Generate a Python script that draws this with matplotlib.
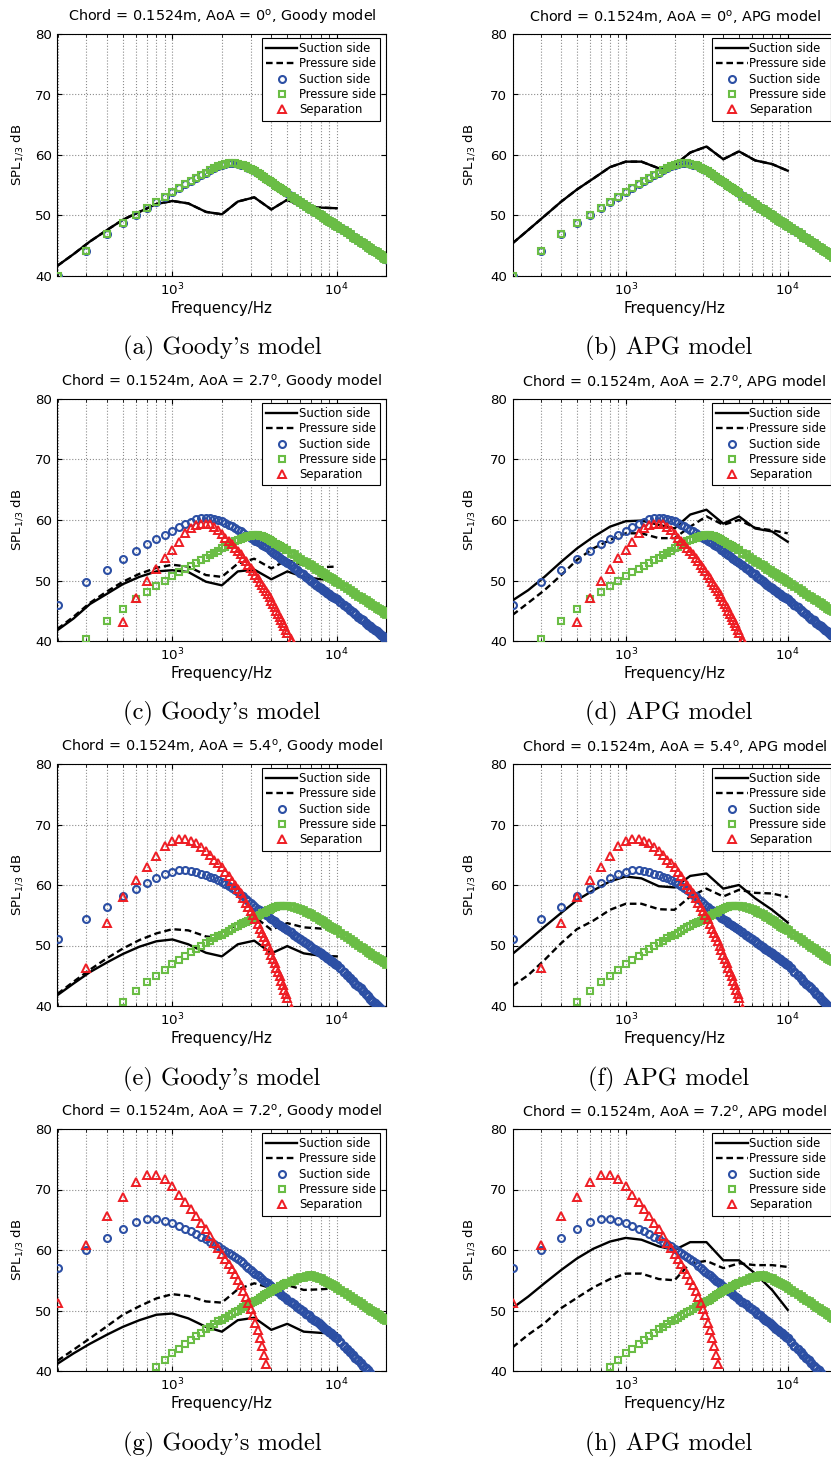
import numpy as np
import matplotlib
matplotlib.use('Agg')
import matplotlib.pyplot as plt
from matplotlib.ticker import FixedLocator, NullFormatter, LogLocator

# ---------------- data ----------------
# model (marker) frequencies, Hz
FREQ = list(range(200, 5001, 100)) + list(range(5250, 10001, 250)) + list(range(10500, 20001, 500))
# one-third octave band centres for the line curves, Hz
BANDS = [200, 250, 315, 400, 500, 630, 800, 1000, 1250, 1600, 2000, 2500, 3150, 4000, 5000, 6300, 8000, 10000]

# ---- AoA = 0 deg : model markers (suction == pressure) ----
SUC_0 = [40.0, 44.2, 46.9, 48.7, 50.1, 51.3, 52.2, 53.1, 53.9, 54.5, 55.2, 55.7, 56.2, 56.7, 57.1, 57.5, 57.9, 58.2, 58.4,
         58.5, 58.6, 58.6, 58.6, 58.5, 58.4, 58.3, 58.1, 57.9, 57.7,
         57.5, 57.3, 57.0, 56.8, 56.6, 56.3, 56.1, 55.9, 55.7, 55.5,
         55.3, 55.1, 54.9, 54.7, 54.6, 54.4, 54.2, 54.1, 53.9, 53.7,
         53.3, 52.9, 52.5, 52.2, 51.9, 51.6, 51.3, 51.0, 50.8, 50.5, 50.3, 50.0, 49.8, 49.6, 49.3, 49.1, 48.9, 48.7, 48.5, 48.3,
         47.9, 47.6, 47.2, 46.9, 46.5, 46.2, 45.9, 45.6, 45.4, 45.1, 44.8, 44.6, 44.3, 44.1, 43.9, 43.6, 43.4, 43.2, 43.0, 42.8]
PRE_0 = list(SUC_0)
SEP_0 = []

# ---- AoA = 2.7 deg ----
SUC_27 = [45.9, 49.7, 51.8, 53.5, 54.8, 56.0, 56.8, 57.6, 58.2, 58.8, 59.3, 59.7, 60.1, 60.3, 60.4, 60.3, 60.2, 60.0, 59.8,
          59.5, 59.2, 59.0, 58.7, 58.4, 58.1, 57.9, 57.6, 57.4, 57.1,
          56.9, 56.6, 56.4, 56.2, 55.9, 55.7, 55.5, 55.3, 55.0, 54.8,
          54.6, 54.4, 54.2, 54.0, 53.8, 53.6, 53.4, 53.2, 53.0, 52.9,
          52.5, 52.1, 51.7, 51.3, 51.0, 50.6, 50.3, 49.9, 49.6, 49.3, 49.0, 48.8, 48.5, 48.2, 48.0, 47.8, 47.5, 47.3, 47.1, 46.9,
          46.4, 46.0, 45.6, 45.2, 44.8, 44.4, 44.0, 43.7, 43.4, 43.0, 42.7, 42.4, 42.1, 41.8, 41.6, 41.3, 41.0, 40.8, 40.5, 40.3]
PRE_27 = [None, 40.4, 43.3, 45.3, 46.9, 48.1, 49.1, 49.9, 50.7, 51.4, 51.9, 52.4, 52.9, 53.4, 53.8, 54.2, 54.6, 54.9, 55.3,
          55.6, 55.9, 56.2, 56.5, 56.7, 56.9, 57.1, 57.2, 57.3, 57.4,
          57.5, 57.5, 57.5, 57.4, 57.3, 57.2, 57.0, 56.9, 56.7, 56.5,
          56.3, 56.1, 56.0, 55.8, 55.7, 55.5, 55.4, 55.3, 55.1, 55.0,
          54.6, 54.3, 53.9, 53.6, 53.3, 53.0, 52.7, 52.5, 52.2, 51.9, 51.7, 51.4, 51.2, 51.0, 50.8, 50.6, 50.4, 50.2, 50.0, 49.8,
          49.4, 49.1, 48.7, 48.4, 48.1, 47.8, 47.5, 47.2, 47.0, 46.7, 46.5, 46.2, 46.0, 45.8, 45.5, 45.3, 45.1, 44.9, 44.7, 44.5]
SEP_27 = [None, None, None, 43.1, 47.1, 49.9, 51.9, 53.7, 55.1, 56.4, 57.8, 58.6, 59.1, 59.3, 59.4, 59.3, 58.9, 58.3, 57.7,
          57.1, 56.6, 56.0, 55.4, 54.9, 54.3, 53.7, 53.2, 52.6, 52.0,
          51.5, 50.9, 50.4, 49.8, 49.3, 48.8, 48.2, 47.7, 47.2, 46.6,
          46.1, 45.6, 45.0, 44.5, 44.0, 43.5, 43.0, 42.4, 41.9, 41.4,
          40.1, 38.8]

# ---- AoA = 5.4 deg ----
SUC_54 = [51.1, 54.3, 56.4, 58.1, 59.3, 60.3, 61.2, 61.9, 62.2, 62.4, 62.4, 62.3, 62.1, 61.9, 61.7, 61.4, 61.1, 60.8, 60.5,
          60.2, 59.8, 59.5, 59.1, 58.8, 58.4, 58.1, 57.7, 57.4, 57.0,
          56.7, 56.4, 56.1, 55.8, 55.6, 55.3, 55.1, 54.8, 54.6, 54.4,
          54.2, 54.0, 53.8, 53.6, 53.4, 53.3, 53.1, 52.9, 52.8, 52.6,
          52.2, 51.8, 51.4, 51.1, 50.7, 50.4, 50.1, 49.8, 49.5, 49.2, 49.0, 48.7, 48.4, 48.2, 47.9, 47.7, 47.5, 47.2, 47.0, 46.8,
          46.2, 45.7, 45.2, 44.7, 44.2, 43.7, 43.3, 42.9, 42.4, 42.0, 41.6, 41.2, 40.9, 40.5, 40.2, 39.8, 39.5, 39.1, 38.8, 38.5]
PRE_54 = [None, None, None, 40.6, 42.4, 43.9, 45.0, 46.0, 46.9, 47.6, 48.3, 48.9, 49.4, 49.9, 50.4, 50.8, 51.2, 51.5, 51.8,
          52.1, 52.4, 52.7, 53.0, 53.2, 53.5, 53.7, 53.9, 54.1, 54.3,
          54.5, 54.7, 54.9, 55.1, 55.3, 55.4, 55.6, 55.8, 55.9, 56.1,
          56.2, 56.3, 56.4, 56.5, 56.5, 56.6, 56.6, 56.6, 56.6, 56.6,
          56.5, 56.4, 56.2, 56.0, 55.8, 55.6, 55.4, 55.2, 54.9, 54.7, 54.4, 54.2, 54.0, 53.8, 53.5, 53.3, 53.1, 52.9, 52.7, 52.5,
          52.1, 51.7, 51.4, 51.1, 50.7, 50.4, 50.1, 49.8, 49.6, 49.3, 49.0, 48.8, 48.5, 48.3, 48.0, 47.8, 47.6, 47.4, 47.2, 47.0]
SEP_54 = [None, 46.3, 53.7, 58.0, 60.8, 62.9, 64.8, 66.4, 67.3, 67.6, 67.6, 67.3, 66.9, 66.3, 65.7, 65.0, 64.2, 63.6, 62.9,
          62.2, 61.5, 60.7, 60.0, 59.3, 58.6, 57.9, 57.1, 56.4, 55.7,
          55.0, 54.3, 53.5, 52.8, 52.1, 51.4, 50.7, 49.9, 49.2, 48.5,
          47.8, 47.1, 46.3, 45.6, 44.9, 44.2, 43.5, 42.7, 42.0, 41.3,
          39.5]

# ---- AoA = 7.2 deg ----
SUC_72 = [57.1, 60.0, 62.0, 63.5, 64.7, 65.1, 65.1, 64.8, 64.4, 64.0, 63.5, 63.1, 62.6, 62.2, 61.8, 61.4, 61.0, 60.6, 60.2,
          59.9, 59.5, 59.2, 58.8, 58.5, 58.1, 57.8, 57.4, 57.1, 56.7,
          56.4, 56.1, 55.8, 55.5, 55.2, 54.9, 54.7, 54.5, 54.2, 54.0,
          53.8, 53.5, 53.3, 53.1, 52.9, 52.6, 52.4, 52.2, 52.0, 51.8,
          51.4, 51.0, 50.6, 50.2, 49.9, 49.5, 49.2, 48.8, 48.5, 48.2, 47.9, 47.6, 47.3, 47.0, 46.7, 46.5, 46.2, 45.9, 45.6, 45.4,
          44.8, 44.2, 43.7, 43.2, 42.7, 42.2, 41.8, 41.3, 40.9, 40.5, 40.1, 39.7]
PRE_72 = [None, None, None, None, None, None, 40.7, 41.8, 42.9, 43.7, 44.5, 45.1, 45.8, 46.3, 46.9, 47.3, 47.8, 48.2, 48.5,
          48.8, 49.1, 49.4, 49.7, 50.0, 50.3, 50.5, 50.8, 51.0, 51.2,
          51.4, 51.6, 51.8, 52.1, 52.3, 52.5, 52.7, 52.9, 53.0, 53.2,
          53.4, 53.5, 53.7, 53.8, 54.0, 54.1, 54.2, 54.4, 54.5, 54.6,
          54.9, 55.1, 55.3, 55.5, 55.6, 55.7, 55.8, 55.8, 55.7, 55.6, 55.4, 55.3, 55.1, 54.9, 54.7, 54.5, 54.3, 54.2, 54.0, 53.8,
          53.4, 53.1, 52.7, 52.4, 52.1, 51.8, 51.5, 51.2, 50.9, 50.6, 50.4, 50.1, 49.9, 49.7, 49.4, 49.2, 49.0, 48.8, 48.6, 48.4]
SEP_72 = [51.2, 60.8, 65.7, 68.8, 71.3, 72.4, 72.4, 71.7, 70.5, 69.1, 67.9, 66.7, 65.6, 64.5, 63.4, 62.3, 61.2, 60.3, 59.3,
          58.5, 57.7, 56.8, 56.0, 55.1, 54.2, 53.3, 52.3, 51.3, 50.3,
          49.2, 48.0, 46.8, 45.5, 44.2, 42.7, 41.2]

# ---- line curves (one-third octave bands) ----
GOODY_SS_0 = [41.7, 43.6, 45.7, 47.6, 49.3, 50.6, 51.9, 52.4, 52.0, 50.6, 50.2, 52.3, 53.0, 51.0, 52.6, 51.3, 51.3, 51.2]
GOODY_PS_0 = list(GOODY_SS_0)
APG_SS_0 = [45.4, 47.6, 49.9, 52.3, 54.3, 56.1, 58.0, 58.9, 58.9, 57.8, 58.3, 60.4, 61.4, 59.3, 60.6, 59.1, 58.5, 57.4]
APG_PS_0 = list(APG_SS_0)

GOODY_SS_27 = [41.8, 43.7, 46.1, 47.8, 49.4, 50.6, 51.5, 51.7, 51.4, 49.8, 49.2, 51.5, 51.8, 50.2, 51.5, 50.6, 50.2, 50.1]
GOODY_PS_27 = [42.0, 44.0, 46.3, 48.2, 49.8, 51.1, 52.1, 52.6, 52.3, 50.9, 50.6, 52.8, 53.6, 52.0, 53.4, 52.5, 52.2, 52.3]
APG_SS_27 = [46.7, 48.4, 50.6, 53.1, 55.3, 57.2, 58.9, 59.8, 59.9, 59.2, 58.6, 60.9, 61.7, 59.4, 60.6, 58.6, 58.1, 56.4]
APG_PS_27 = [44.3, 46.3, 48.4, 50.9, 53.4, 55.3, 56.7, 57.8, 57.8, 57.0, 57.0, 58.9, 60.6, 59.2, 60.0, 58.7, 58.3, 57.8]

GOODY_SS_54 = [41.8, 43.7, 45.6, 47.2, 48.6, 49.8, 50.7, 51.0, 50.2, 48.8, 48.2, 50.2, 50.8, 48.7, 49.9, 48.7, 48.3, 48.2]
GOODY_PS_54 = [42.0, 44.0, 46.0, 47.9, 49.5, 50.9, 52.0, 52.7, 52.5, 51.5, 51.2, 53.9, 54.8, 52.6, 53.7, 53.0, 52.8, 52.7]
APG_SS_54 = [48.6, 50.8, 53.1, 55.4, 57.5, 59.1, 60.6, 61.4, 61.1, 59.8, 59.6, 61.5, 61.9, 59.4, 60.0, 57.8, 55.9, 53.8]
APG_PS_54 = [43.3, 45.1, 47.6, 50.4, 52.7, 54.1, 55.9, 56.9, 56.9, 56.0, 55.9, 58.1, 59.4, 58.1, 59.2, 58.7, 58.6, 58.0]

GOODY_SS_72 = [41.2, 42.9, 44.5, 46.0, 47.3, 48.4, 49.3, 49.5, 48.7, 47.3, 46.5, 48.4, 48.8, 46.8, 47.8, 46.5, 46.3, 46.2]
GOODY_PS_72 = [41.7, 43.5, 45.4, 47.4, 49.3, 50.7, 52.0, 52.7, 52.4, 51.5, 51.3, 53.5, 54.5, 53.7, 54.2, 53.4, 53.5, 53.7]
APG_SS_72 = [50.4, 52.3, 54.5, 56.7, 58.6, 60.2, 61.4, 62.0, 61.7, 60.6, 60.0, 61.3, 61.3, 58.3, 58.3, 56.1, 53.4, 50.1]
APG_PS_72 = [43.9, 46.0, 47.9, 50.4, 52.1, 53.8, 55.2, 56.1, 56.1, 55.2, 55.0, 57.8, 58.2, 57.0, 57.8, 57.5, 57.5, 57.2]

AOA = ['0', '2.7', '5.4', '7.2']
MODELS = ['Goody', 'APG']
CAPTIONS = ["(a) Goody's model", "(b) APG model", "(c) Goody's model", "(d) APG model",
            "(e) Goody's model", "(f) APG model", "(g) Goody's model", "(h) APG model"]
YTICKS = [40, 50, 60, 70, 80]
LEG_LABELS = ['Suction side', 'Pressure side', 'Suction side', 'Pressure side', 'Separation']

LINES = [[(GOODY_SS_0, GOODY_PS_0), (APG_SS_0, APG_PS_0)],
         [(GOODY_SS_27, GOODY_PS_27), (APG_SS_27, APG_PS_27)],
         [(GOODY_SS_54, GOODY_PS_54), (APG_SS_54, APG_PS_54)],
         [(GOODY_SS_72, GOODY_PS_72), (APG_SS_72, APG_PS_72)]]
MARKERS = [(SUC_0, PRE_0, SEP_0), (SUC_27, PRE_27, SEP_27),
           (SUC_54, PRE_54, SEP_54), (SUC_72, PRE_72, SEP_72)]

BLUE = '#2C4FA4'
GREEN = '#6ABD45'
RED = '#EE1D24'
DENSE_FROM = 5000   # above this the model points sit so close that they merge into a band


def arr(v):
    return np.array([np.nan if x is None else x for x in v], dtype=float)


def marker_series(ax, y, marker, ms, mew, color, label, z):
    x = np.array(FREQ[:len(y)], dtype=float)
    y = arr(y)
    lo = x <= DENSE_FROM
    ax.plot(x[lo], y[lo], ls='none', marker=marker, ms=ms, mew=mew,
            mfc='none', mec=color, label=label, zorder=z)
    ax.plot(x[~lo], y[~lo], ls='none', marker=marker, ms=ms, mew=mew + 0.5,
            mfc='none', mec=color, zorder=z)


# ---------------- layout ----------------
W, H = 831, 1461
fig = plt.figure(figsize=(W / 100, H / 100), dpi=100)
col_x = [57.5, 512.5]
col_w = [328.7, 324.0]
row_top = [34, 399, 764, 1129]
ax_h = 242
cap_y = [348, 713, 1079, 1444]
cap_x = [222, 669]
ylab_x = [19, 471]

for r in range(4):
    for c in range(2):
        ax = fig.add_axes([col_x[c] / W, 1 - (row_top[r] + ax_h) / H, col_w[c] / W, ax_h / H])
        ax.set_xscale('log')
        ss, ps = LINES[r][c]
        suc, pre, sep = MARKERS[r]
        ax.plot(BANDS, ss, color='k', lw=1.7, ls='-', label=LEG_LABELS[0], zorder=3)
        ax.plot(BANDS, ps, color='k', lw=1.7, ls=(0, (2.8, 1.6)), label=LEG_LABELS[1], zorder=3)
        marker_series(ax, suc, 'o', 5.0, 1.5, BLUE, LEG_LABELS[2], 4)
        marker_series(ax, pre, 's', 4.0, 1.5, GREEN, LEG_LABELS[3], 5)
        marker_series(ax, sep, '^', 5.2, 1.4, RED, LEG_LABELS[4], 6)

        ax.set_xlim(200, 20000)
        ax.set_ylim(40, 80)
        ax.yaxis.set_major_locator(FixedLocator(YTICKS))
        ax.xaxis.set_major_locator(LogLocator(base=10, numticks=10))
        ax.xaxis.set_minor_locator(LogLocator(base=10, subs=np.arange(2, 10), numticks=20))
        ax.xaxis.set_minor_formatter(NullFormatter())
        ax.set_axisbelow(True)
        ax.grid(True, which='major', axis='both', ls=':', lw=0.8, color='0.55')
        ax.grid(True, which='minor', axis='x', ls=':', lw=0.8, color='0.55')
        ax.tick_params(which='both', direction='in', top=True, right=True, labelsize=9.6, pad=4)
        ax.tick_params(which='major', length=3.5, width=0.8)
        ax.tick_params(which='minor', length=2, width=0.6)
        for sp in ax.spines.values():
            sp.set_linewidth(0.8)

        ax.set_title(r'Chord = 0.1524m, AoA = %s$^\mathrm{o}$, %s model' % (AOA[r], MODELS[c]),
                     fontsize=10.4, pad=8.6)
        ax.set_xlabel('Frequency/Hz', fontsize=10.8, labelpad=2)
        ax.set_ylabel(r'SPL$_{1/3}$ dB', fontsize=9.6)
        ax.yaxis.set_label_coords((ylab_x[c] + 6 - col_x[c]) / col_w[c], 0.5)

        leg = ax.legend(loc='upper right', bbox_to_anchor=(1 - 6 / col_w[c], 1 - 4 / ax_h),
                        borderaxespad=0, fontsize=8.4, handlelength=2.7, handletextpad=0.15,
                        labelspacing=0.2, borderpad=0.35, fancybox=False, edgecolor='k',
                        framealpha=1, numpoints=1)
        leg.get_frame().set_linewidth(0.8)

        fig.text(cap_x[c] / W, 1 - cap_y[r] / H, CAPTIONS[2 * r + c],
                 ha='center', va='center', fontfamily='cmr10', fontsize=17.7)

fig.savefig('out.png', dpi=100)
